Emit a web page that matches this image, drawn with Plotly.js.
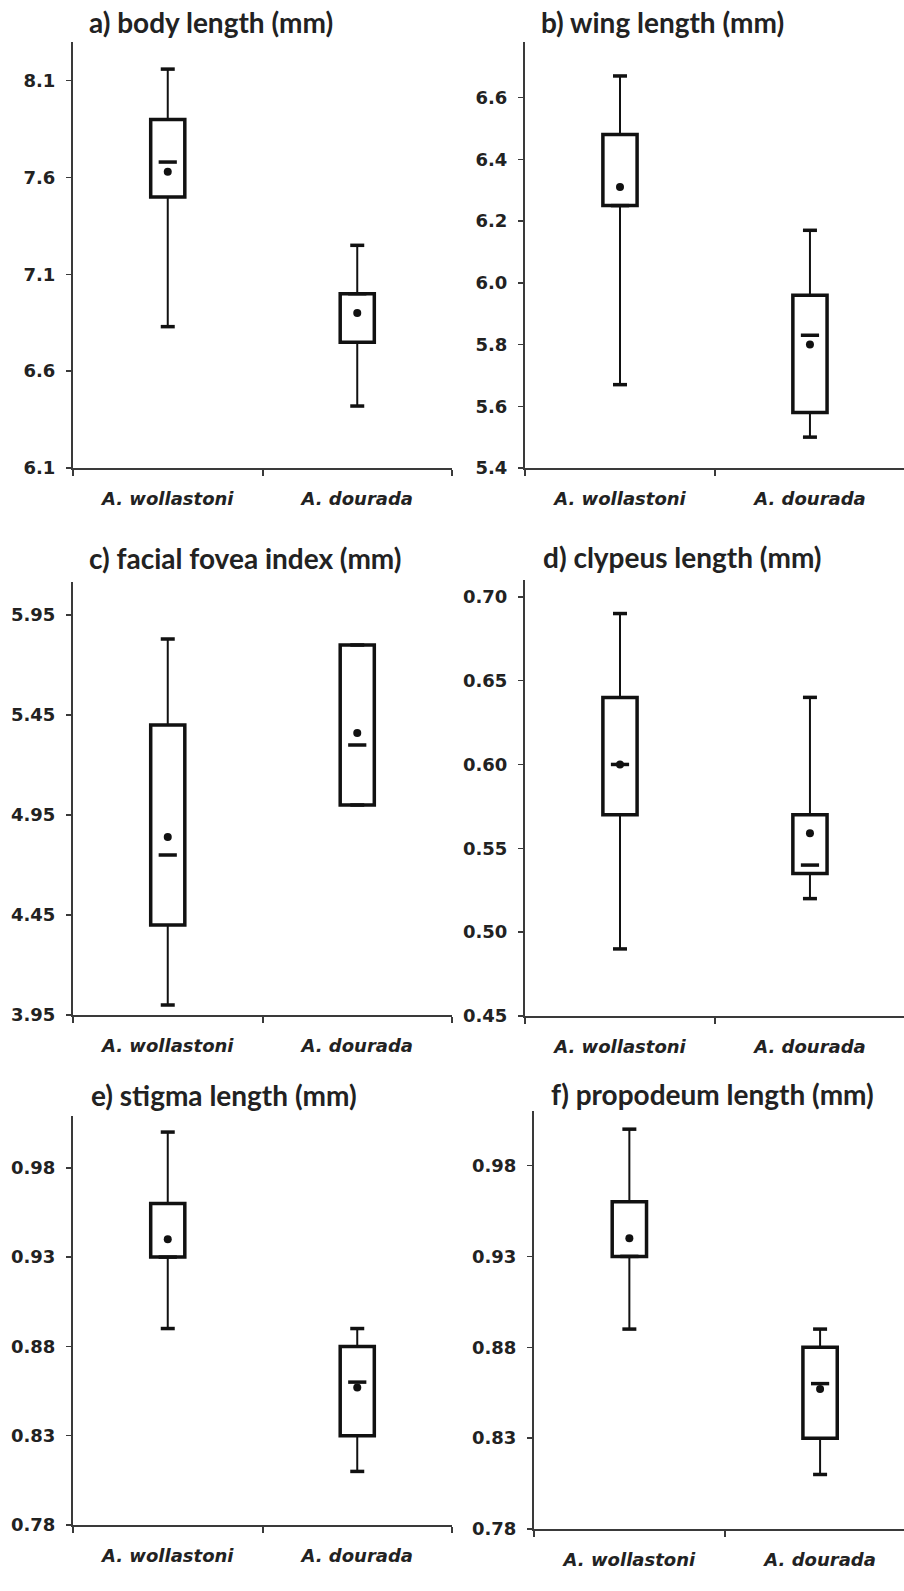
<!DOCTYPE html>
<html>
<head>
<meta charset="utf-8">
<script src="https://cdn.plot.ly/plotly-3.0.1.min.js"></script>
<style>
  html, body { margin: 0; padding: 0; background: #ffffff; }
  #chart { width: 904px; height: 1591px; }
</style>
</head>
<body>
<div id="chart"></div>
<script>
// ---- data ----
const categories = ['A. wollastoni', 'A. dourada'];

const panelTitles = [
  'a) body length (mm)',
  'b) wing length (mm)',
  'c) facial fovea index (mm)',
  'd) clypeus length (mm)',
  'e) stigma length (mm)',
  'f) propodeum length (mm)'
];

// a) body length
const bodyLower  = [6.83, 6.42];
const bodyQ1     = [7.50, 6.75];
const bodyMedian = [7.68, 7.00];
const bodyQ3     = [7.90, 7.00];
const bodyUpper  = [8.16, 7.25];
const bodyMean   = [7.63, 6.90];

// b) wing length
const wingLower  = [5.67, 5.50];
const wingQ1     = [6.25, 5.58];
const wingMedian = [6.25, 5.83];
const wingQ3     = [6.48, 5.96];
const wingUpper  = [6.67, 6.17];
const wingMean   = [6.31, 5.80];

// c) facial fovea index
const foveaLower  = [4.00, 5.00];
const foveaQ1     = [4.40, 5.00];
const foveaMedian = [4.75, 5.30];
const foveaQ3     = [5.40, 5.80];
const foveaUpper  = [5.83, 5.80];
const foveaMean   = [4.84, 5.36];

// d) clypeus length
const clypeusLower  = [0.49, 0.52];
const clypeusQ1     = [0.57, 0.535];
const clypeusMedian = [0.60, 0.54];
const clypeusQ3     = [0.64, 0.57];
const clypeusUpper  = [0.69, 0.64];
const clypeusMean   = [0.60, 0.559];

// e) stigma length
const stigmaLower  = [0.89, 0.81];
const stigmaQ1     = [0.93, 0.83];
const stigmaMedian = [0.93, 0.86];
const stigmaQ3     = [0.96, 0.88];
const stigmaUpper  = [1.00, 0.89];
const stigmaMean   = [0.94, 0.857];

// f) propodeum length
const propLower  = [0.89, 0.81];
const propQ1     = [0.93, 0.83];
const propMedian = [0.93, 0.86];
const propQ3     = [0.96, 0.88];
const propUpper  = [1.00, 0.89];
const propMean   = [0.94, 0.857];

// y-axis tick settings per panel
const yTick0   = [6.1, 5.4, 3.95, 0.45, 0.78, 0.78];
const yDtick   = [0.5, 0.2, 0.5, 0.05, 0.05, 0.05];
const yTop     = [8.30, 6.78, 6.115, 0.71, 1.009, 1.01];
const yFormat  = ['.1f', '.1f', '.2f', '.2f', '.2f', '.2f'];

// ---- build ----
const stats = [
  [bodyLower, bodyQ1, bodyMedian, bodyQ3, bodyUpper, bodyMean],
  [wingLower, wingQ1, wingMedian, wingQ3, wingUpper, wingMean],
  [foveaLower, foveaQ1, foveaMedian, foveaQ3, foveaUpper, foveaMean],
  [clypeusLower, clypeusQ1, clypeusMedian, clypeusQ3, clypeusUpper, clypeusMean],
  [stigmaLower, stigmaQ1, stigmaMedian, stigmaQ3, stigmaUpper, stigmaMean],
  [propLower, propQ1, propMedian, propQ3, propUpper, propMean]
];

const W = 904, H = 1591;
// pixel frames: [left, right, top, bottom]
const frames = [
  [73, 452, 42, 468],
  [525, 904, 42, 468],
  [73, 452, 582, 1015],
  [525, 904, 580, 1016],
  [73, 452, 1116, 1525],
  [534, 904, 1111, 1529]
];
const xRanges = [[-0.5, 1.5], [-0.5, 1.495], [-0.5, 1.5], [-0.5, 1.495], [-0.5, 1.5], [-0.5, 1.44]];
const titlePos = [[87, 22], [539, 22], [87, 558], [541, 557], [89, 1095], [549, 1094]];

const traces = [];
const layout = {
  width: W, height: H,
  margin: {l: 0, r: 0, t: 0, b: 0},
  paper_bgcolor: '#ffffff',
  plot_bgcolor: 'rgba(0,0,0,0)',
  showlegend: false,
  annotations: []
};

const black = '#111111';
const axisColor = '#3a3a3a';

stats.forEach((s, i) => {
  const [lo, q1, med, q3, up, mean] = s;
  const n = i + 1;
  const xa = 'x' + (n === 1 ? '' : n);
  const ya = 'y' + (n === 1 ? '' : n);

  // box body
  traces.push({
    type: 'bar', x: categories, base: q1,
    y: q3.map((v, k) => v - q1[k]),
    width: 0.18,
    marker: {color: '#ffffff', line: {color: black, width: 3.5}},
    xaxis: xa, yaxis: ya, hoverinfo: 'skip'
  });

  // whiskers
  const wx = [], wy = [];
  categories.forEach((c, k) => {
    wx.push(c, c, null, c, c, null);
    wy.push(q3[k], up[k], null, q1[k], lo[k], null);
  });
  traces.push({
    type: 'scatter', mode: 'lines', x: wx, y: wy,
    line: {color: black, width: 2},
    xaxis: xa, yaxis: ya, hoverinfo: 'skip', connectgaps: false
  });

  // whisker caps
  traces.push({
    type: 'scatter', mode: 'markers',
    x: categories.concat(categories), y: up.concat(lo),
    marker: {symbol: 'line-ew-open', size: 10, color: black, line: {color: black, width: 3.5}},
    xaxis: xa, yaxis: ya, hoverinfo: 'skip'
  });

  // median
  traces.push({
    type: 'scatter', mode: 'markers', x: categories, y: med,
    marker: {symbol: 'line-ew-open', size: 13, color: black, line: {color: black, width: 3.5}},
    xaxis: xa, yaxis: ya, hoverinfo: 'skip'
  });

  // mean
  traces.push({
    type: 'scatter', mode: 'markers', x: categories, y: mean,
    marker: {symbol: 'circle', size: 8, color: black},
    xaxis: xa, yaxis: ya, hoverinfo: 'skip'
  });

  const f = frames[i];
  layout['xaxis' + (n === 1 ? '' : n)] = {
    domain: [f[0] / W, f[1] / W],
    anchor: ya,
    type: 'category',
    categoryorder: 'array', categoryarray: categories,
    range: xRanges[i],
    showline: true, linecolor: axisColor, linewidth: 2,
    ticks: 'outside', tickson: 'boundaries', ticklen: 6, tickwidth: 2, tickcolor: axisColor,
    showgrid: false, zeroline: false, fixedrange: true,
    ticklabelstandoff: 13,
    tickfont: {family: 'DejaVu Sans', size: 18, weight: 'bold', style: 'italic', color: '#222222'}
  };
  layout['yaxis' + (n === 1 ? '' : n)] = {
    domain: [1 - f[3] / H, 1 - f[2] / H],
    anchor: xa,
    range: [yTick0[i], yTop[i]],
    tick0: yTick0[i], dtick: yDtick[i], tickformat: yFormat[i],
    showline: true, linecolor: axisColor, linewidth: 2,
    ticks: 'outside', ticklen: 5, tickwidth: 1.5, tickcolor: axisColor,
    showgrid: false, zeroline: false, fixedrange: true,
    ticklabelstandoff: 7,
    tickfont: {family: 'DejaVu Sans', size: 18, weight: 'bold', color: '#222222'}
  };

  layout.annotations.push({
    text: panelTitles[i],
    xref: 'paper', yref: 'paper',
    x: titlePos[i][0] / W, y: 1 - titlePos[i][1] / H,
    xanchor: 'left', yanchor: 'middle', showarrow: false,
    font: {family: 'Lato', size: 28, weight: 'bold', color: '#222222'}
  });
});

Plotly.newPlot('chart', traces, layout, {staticPlot: true, displayModeBar: false});
</script>
</body>
</html>
